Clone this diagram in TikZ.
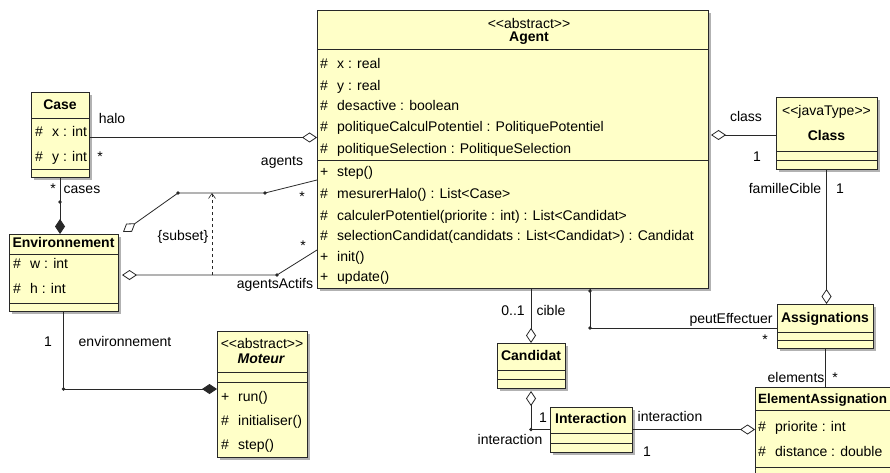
\documentclass[tikz,border=0pt]{standalone}
\usepackage{fontspec}
\setmainfont{Liberation Sans}
\usetikzlibrary{arrows.meta, shadows, positioning}

\definecolor{jaune}{RGB}{255,255,200}
\definecolor{trait}{RGB}{40,40,40}

\tikzset{
  classe/.style={draw=trait, line width=0.8pt, fill=jaune, anchor=north west, inner sep=0pt, outer sep=0pt,
    drop shadow={shadow xshift=3pt, shadow yshift=-3pt, fill=black!50, opacity=0.6}},
  texte/.style={inner sep=0pt, text height=10pt, text depth=3pt, font=\fontsize{14}{16}\selectfont},
  titre/.style={texte, font=\fontsize{14}{16}\selectfont\bfseries},
  membre/.style={texte, anchor=west},
  lien/.style={draw=trait, line width=0.8pt},
  agg/.style={lien, -{Diamond[fill=white, length=15pt, width=10pt]}},
  comp/.style={lien, -{Diamond[length=15pt, width=10pt]}},
}
\newcommand{\vis}[2]{\makebox[17pt][l]{#1}#2}
\newcommand{\cloison}[2]{\draw[lien] (#1.west |- 0,#2) -- (#1.east |- 0,#2);}

\begin{document}
\begin{tikzpicture}[x=1pt, y=-1pt]
    \path[use as bounding box, fill=white] (0,0) rectangle (890,473);

    % Case
    \node[classe, minimum width=58pt, minimum height=85pt] (case) at (31,92) {};
    \node[titre] (caseT) at (60,106) {Case};
    \cloison{case}{118}
    \node[membre] (caseX) at (35,133) {\vis{\#}{x : int}};
    \node[membre] (caseY) at (35,158) {\vis{\#}{y : int}};
    \cloison{case}{169}

    % Environnement
    \node[classe, minimum width=109pt, minimum height=77pt] (env) at (9,234) {};
    \node[titre] (envT) at (63.5,244) {Environnement};
    \cloison{env}{254}
    \node[membre] (envW) at (13,265) {\vis{\#}{w : int}};
    \node[membre] (envH) at (13,290) {\vis{\#}{h : int}};
    \cloison{env}{303}

    % Agent
    \node[classe, minimum width=391pt, minimum height=278pt] (agent) at (317,10) {};
    \node[texte] (agentS) at (529,25) {<{}<abstract>{}>};
    \node[titre] (agentT) at (529,38) {Agent};
    \cloison{agent}{49}
    \node[membre] (agX) at (320,65) {\vis{\#}{x : real}};
    \node[membre] (agY) at (320,87) {\vis{\#}{y : real}};
    \node[membre] (agD) at (320,107) {\vis{\#}{desactive : boolean}};
    \node[membre] (agPP) at (320,128) {\vis{\#}{politiqueCalculPotentiel : PolitiquePotentiel}};
    \node[membre] (agPS) at (320,150) {\vis{\#}{politiqueSelection : PolitiqueSelection}};
    \cloison{agent}{160}
    \node[membre] (agStep) at (320,173) {\vis{+}{step()}};
    \node[membre] (agHalo) at (320,195) {\vis{\#}{mesurerHalo() : List<Case>}};
    \node[membre] (agCalc) at (320,217) {\vis{\#}{calculerPotentiel(priorite : int) : List<Candidat>}};
    \node[membre] (agSel) at (320,237) {\vis{\#}{selectionCandidat(candidats : List<Candidat>) : Candidat}};
    \node[membre] (agInit) at (320,258) {\vis{+}{init()}};
    \node[membre] (agUpd) at (320,278) {\vis{+}{update()}};

    % Class
    \node[classe, minimum width=101pt, minimum height=72pt] (classe) at (776,97) {};
    \node[texte] (classeS) at (826.5,112) {<{}<javaType>{}>};
    \node[titre] (classeT) at (826.5,137) {Class};
    \cloison{classe}{151}
    \cloison{classe}{160}

    % Assignations
    \node[classe, minimum width=96pt, minimum height=44pt] (assign) at (777,304) {};
    \node[titre] (assignT) at (825,319) {Assignations};
    \cloison{assign}{332}
    \cloison{assign}{340}

    % Candidat
    \node[classe, minimum width=68pt, minimum height=45pt] (cand) at (497,343) {};
    \node[titre] (candT) at (531,357) {Candidat};
    \cloison{cand}{370}
    \cloison{cand}{379}

    % Interaction
    \node[classe, minimum width=82pt, minimum height=45pt] (inter) at (550,407) {};
    \node[titre] (interT) at (591,420) {Interaction};
    \cloison{inter}{433}
    \cloison{inter}{443}

    % ElementAssignation
    \node[classe, minimum width=140pt, minimum height=110pt] (ea) at (755,387) {};
    \node[titre, anchor=west, font=\fontsize{13.4}{16}\selectfont\bfseries] (eaT) at (758,400) {ElementAssignation};
    \cloison{ea}{410}
    \node[membre] (eaP) at (758,428) {\vis{\#}{priorite : int}};
    \node[membre] (eaD) at (758,453) {\vis{\#}{distance : double}};
    \cloison{ea}{467}

    % Moteur
    \node[classe, minimum width=90pt, minimum height=126pt] (moteur) at (217,331) {};
    \node[texte] (moteurS) at (262,345) {<{}<abstract>{}>};
    \node[titre] (moteurT) at (261,360) {\itshape Moteur};
    \cloison{moteur}{372}
    \cloison{moteur}{382}
    \node[membre] (moRun) at (221,398) {\vis{+}{run()}};
    \node[membre] (moInit) at (221,422) {\vis{\#}{initialiser()}};
    \node[membre] (moStep) at (221,446) {\vis{\#}{step()}};

    % halo
    \coordinate (haloG) at ([yshift=-3pt]case.east);
    \draw[agg] (haloG) -- (haloG -| agent.west);
    \node[texte] (haloL) at (112,120) {halo};
    \node[texte] (haloM) at (100,158) {*};

    % cases
    \coordinate (casesP) at (60,202);
    \draw[comp] (case.south) -- (case.south |- env.north);
    \fill[trait] (case.south |- casesP) circle (1.8pt);
    \node[texte] (casesM) at (53,190) {*};
    \node[texte] (casesL) at (82,190) {cases};

    % agents
    \coordinate (agA) at (265,193);
    \coordinate (agB) at (178,193);
    \draw[agg] ([yshift=-31pt]agent.west) -- (agA) -- (agB) -- ([shift={(5,-2)}]env.north east);
    \fill[trait] (agA) circle (1.8pt);
    \fill[trait] (agB) circle (1.8pt);
    \node[texte] (agentsL) at (282,162) {agents};
    \node[texte] (agentsM) at (302,198) {*};

    % agentsActifs
    \coordinate (actA) at (277,275);
    \coordinate (envE) at ([xshift=4pt]env.east);
    \draw[agg] ([yshift=-101pt]agent.west) -- (actA) -- (actA -| envE);
    \fill[trait] (actA) circle (1.8pt);
    \node[texte] (actifsL) at (275,285) {agentsActifs};
    \node[texte] (actifsM) at (303,247) {*};

    % subset
    \coordinate (subB) at (212,275);
    \coordinate (subH) at (212,193);
    \draw[lien, line width=0.6pt, dashed, -{Straight Barb[length=5pt, width=7pt]}] (subB) -- (subH);
    \node[texte] (subsetL) at (183,237) {\{subset\}};

    % environnement
    \coordinate (envP) at (64,389);
    \draw[comp] (env.south) -- (env.south |- envP) -- (envP -| moteur.west);
    \fill[trait] (env.south |- envP) circle (1.8pt);
    \node[texte] (envM) at (48,343) {1};
    \node[texte] (envL) at (125,343) {environnement};

    % class
    \coordinate (classD) at ([yshift=-2pt]classe.west);
    \coordinate (agentE) at ([xshift=3pt]agent.east);
    \draw[agg] (classD) -- (classD -| agentE);
    \node[texte] (classL) at (746,118) {class};
    \node[texte] (classM) at (757,158) {1};

    % familleCible
    \draw[agg] (classe.south) -- (classe.south |- assign.north);
    \node[texte] (familleL) at (785,190) {familleCible};
    \node[texte] (familleM) at (840,190) {1};

    % peutEffectuer
    \coordinate (peutB) at (590,328);
    \draw[lien] (agent.south -| peutB) -- (peutB) -- (peutB -| assign.west);
    \fill[trait] ([yshift=-3pt]agent.south -| peutB) circle (1.8pt);
    \fill[trait] (peutB) circle (1.8pt);
    \node[texte] (peutL) at (731,320) {peutEffectuer};
    \node[texte] (peutM) at (765,341) {*};

    % cible
    \draw[agg] (cand.north |- agent.south) -- (cand.north);
    \node[texte] (cibleM) at (513,312) {0..1};
    \node[texte] (cibleL) at (551,312) {cible};

    % interaction
    \coordinate (candS) at ([yshift=-3pt]cand.south);
    \draw[agg] (inter.west) -- (cand.south |- inter.west) -- (candS);
    \fill[trait] (cand.south |- inter.west) circle (1.8pt);
    \node[texte] (interM) at (543,419) {1};
    \node[texte] (interL) at (510,441) {interaction};
    \draw[agg] (inter.east) -- (inter.east -| ea.west);
    \node[texte] (eaL) at (670,418) {interaction};
    \node[texte] (eaM) at (647,453) {1};

    % elements
    \draw[lien] (assign.south) -- (assign.south |- ea.north);
    \node[texte] (elemL) at (796,379) {elements};
    \node[texte] (elemM) at (835,379) {*};
\end{tikzpicture}
\end{document}
